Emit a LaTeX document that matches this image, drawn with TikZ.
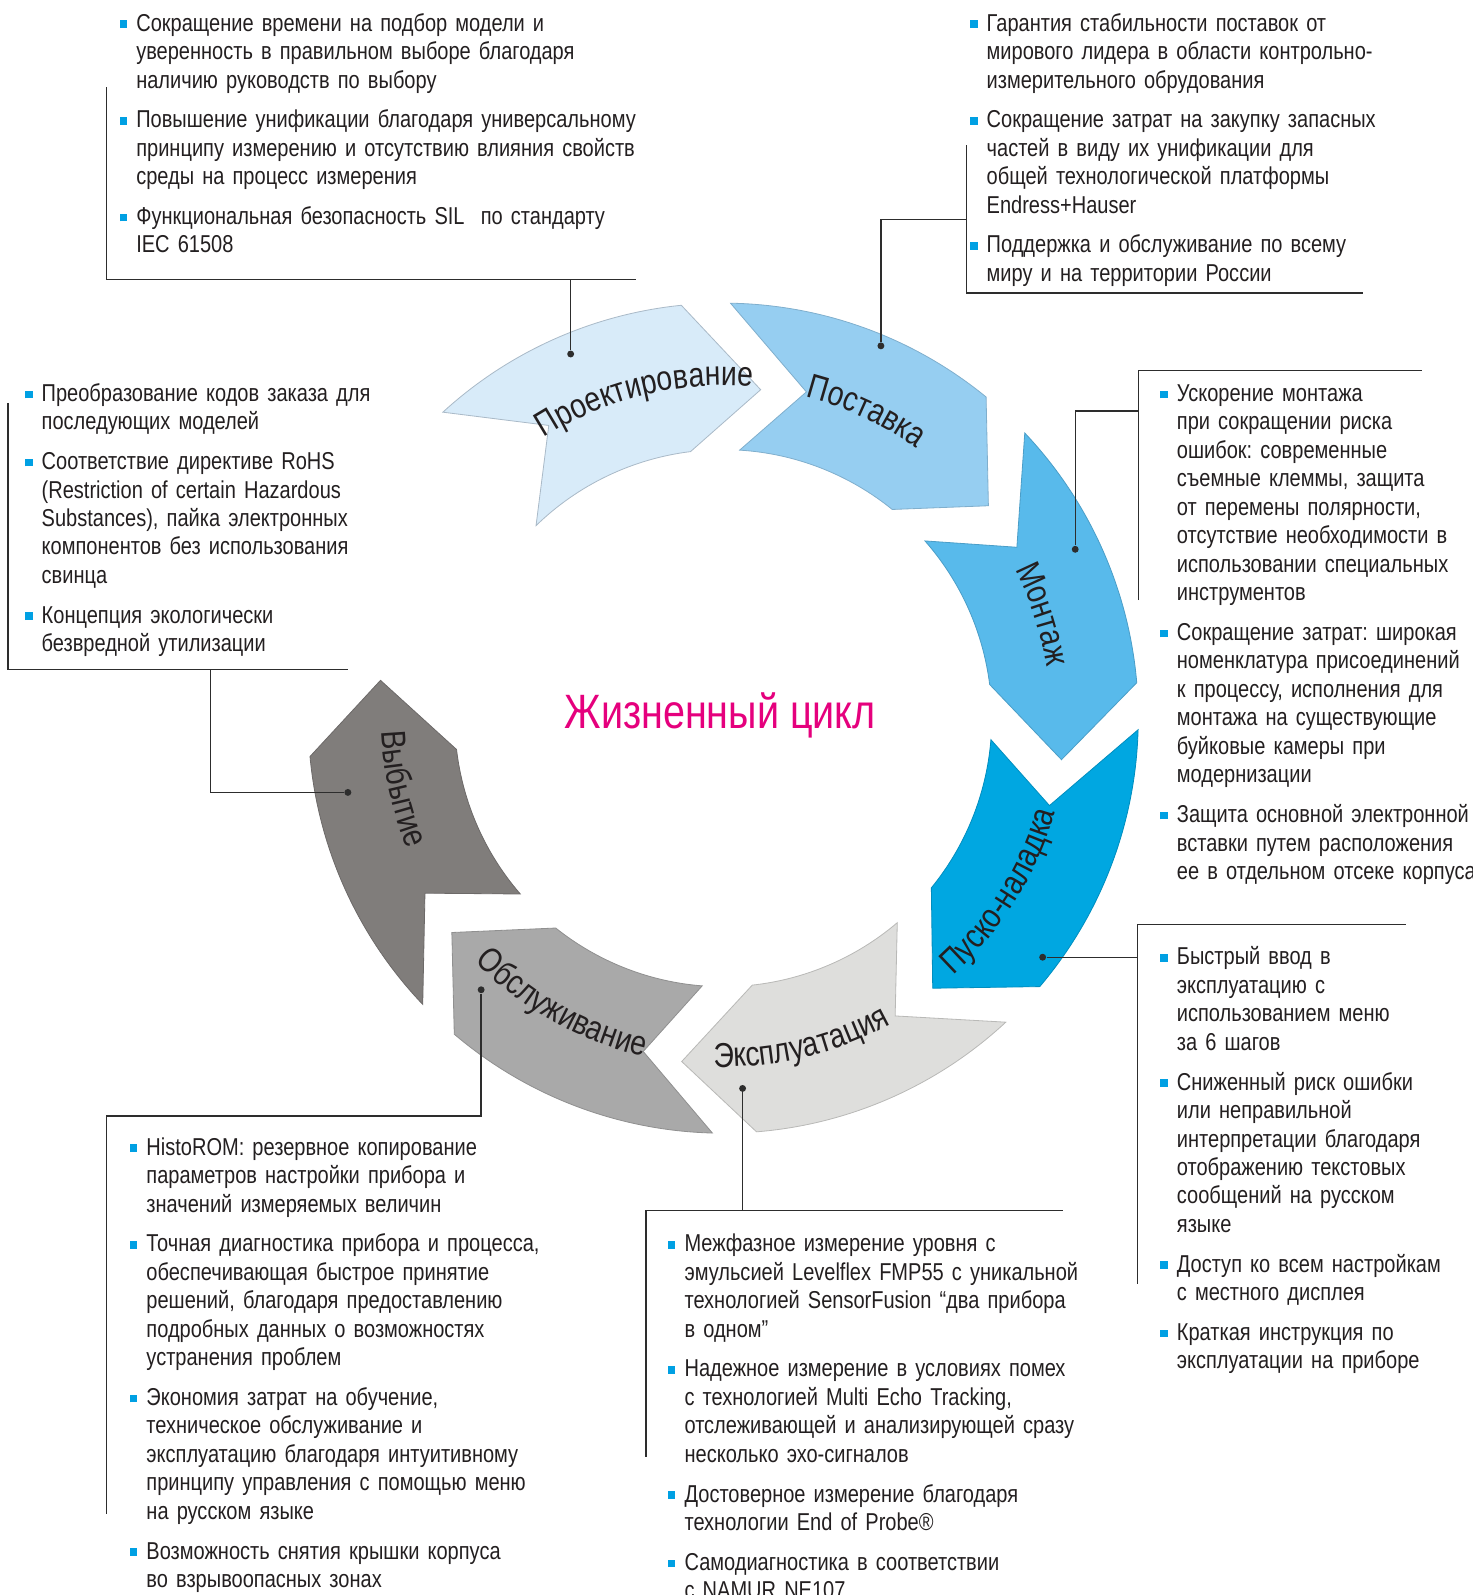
\documentclass[tikz,border=0pt]{standalone}
\usepackage{fontspec}
\setmainfont[FakeStretch=0.82]{Liberation Sans}
\usetikzlibrary{decorations.text}
\definecolor{cA}{RGB}{216,235,249}
\definecolor{cAd}{RGB}{170,186,200}
\definecolor{cB}{RGB}{150,206,241}
\definecolor{cC}{RGB}{88,186,235}
\definecolor{cD}{RGB}{0,167,225}
\definecolor{cE}{RGB}{222,222,220}
\definecolor{cEd}{RGB}{185,185,183}
\definecolor{cF}{RGB}{169,169,169}
\definecolor{cG}{RGB}{128,125,123}
\definecolor{titc}{RGB}{229,0,125}
\definecolor{bulc}{RGB}{0,160,227}
\definecolor{txt}{RGB}{35,31,32}
\definecolor{lnc}{RGB}{45,45,45}
\newcommand{\bodyf}{\fontsize{12}{14}\selectfont}
\newcommand{\lblf}{\fontsize{17}{20}\selectfont}
\newcommand{\titf}{\fontsize{23.7}{28}\selectfont}
\newcommand{\bul}{\leavevmode\strut\llap{\textcolor{bulc}{\rule[1.5pt]{3.75pt}{3.75pt}}\hspace{4.5pt}}}
\frenchspacing
\tikzset{
  blk/.style={anchor=north west, inner sep=0pt, outer sep=0pt, text width=300pt, align=left, font=\bodyf, text=txt},
  seg/.style={line width=0.4pt},
  conn/.style={draw=lnc, line width=0.65pt},
  dotn/.style={circle, fill=lnc, inner sep=0pt, minimum size=3.4pt},
}
\begin{document}
\begin{tikzpicture}[x=0.5pt,y=0.5pt]
\path[use as bounding box] (0,0) rectangle (1448,-1568);
\clip (0,0) rectangle (1448,-1568);

% ring
\begin{scope}[shift={(711,-706)}]
\filldraw[fill=cA, draw=cAd, seg] (132.5:408) arc[start angle=132.5, end angle=95.8, radius=408] -- (83.5:325) -- (97:264) arc[start angle=97, end angle=134.2, radius=264] -- (120.8:335) -- cycle;
\filldraw[fill=cB, draw=cB!85!black, seg] (89:408) arc[start angle=89, end angle=50.7, radius=408] -- (38.7:334) -- (51:264) arc[start angle=51, end angle=86.5, radius=264] -- (75.7:331) -- cycle;
\filldraw[fill=cC, draw=cC!85!black, seg] (43.4:408) arc[start angle=43.4, end angle=4.9, radius=408] -- (-7:335) -- (7.2:264) arc[start angle=7.2, end angle=41.3, radius=264] -- (30.2:334) -- cycle;
\filldraw[fill=cD, draw=cD!85!black, seg] (-1.6:408) arc[start angle=-1.6, end angle=-40.3, radius=408] -- (-52.2:336) -- (-39.2:264) arc[start angle=-39.2, end angle=-4.6, radius=264] -- (-15:332) -- cycle;
\filldraw[fill=cE, draw=cEd, seg] (-47.1:408) arc[start angle=-47.1, end angle=-85.4, radius=408] -- (-96.9:340) -- (-83.8:264) arc[start angle=-83.8, end angle=-49.6, radius=264] -- (-60:338) -- cycle;
\filldraw[fill=cF, draw=cF!85!black, seg] (-91.5:408) arc[start angle=-91.5, end angle=-130.4, radius=408] -- (-141.7:340) -- (-128.6:264) arc[start angle=-128.6, end angle=-94.5, radius=264] -- (-103.5:337) -- cycle;
\filldraw[fill=cG, draw=cG!85!black, seg] (-136.4:408) arc[start angle=-136.4, end angle=-174.7, radius=408] -- (-186.3:339) -- (-173.3:264) arc[start angle=-173.3, end angle=-139.1, radius=264] -- (-149.6:340) -- cycle;

\path[decorate, decoration={text along path, text align=center, text={|\lblf\color{txt}|Проектирование}}] (133.8:327) arc[start angle=133.8, end angle=73.8, radius=327];
\path[decorate, decoration={text along path, text align=center, text={|\lblf\color{txt}|Поставка}}] (95:326) arc[start angle=95, end angle=35, radius=326];
\path[decorate, decoration={text along path, text align=center, text={|\lblf\color{txt}|Монтаж}}] (48:322) arc[start angle=48, end angle=-12, radius=322];
\path[decorate, decoration={text along path, text align=center, text={|\lblf\color{txt}|Пуско-наладка}}] (-62:339) arc[start angle=-62, end angle=-2, radius=339];
\path[decorate, decoration={text along path, text align=center, text={|\lblf\color{txt}|Эксплуатация}}] (-106.4:343) arc[start angle=-106.4, end angle=-46.4, radius=343];
\path[decorate, decoration={text along path, text align=center, text={|\lblf\color{txt}|Обслуживание}}] (-149.4:342) arc[start angle=-149.4, end angle=-89.4, radius=342];
\path[decorate, decoration={text along path, text align=center, text={|\lblf\color{txt}|Выбытие}}] (-197.6:336) arc[start angle=-197.6, end angle=-137.6, radius=336];
\end{scope}

\node[anchor=base, inner sep=0pt, text=titc, font=\titf] (title) at (708,-716) {Жизненный цикл};

% text blocks
\node[blk] (b1) at (134,-11) {\setlength{\parskip}{5.5pt}%
\bul Сокращение времени на подбор модели и\\ уверенность в правильном выборе благодаря\\ наличию руководств по выбору\par
\bul Повышение унификации благодаря универсальному\\ принципу измерению и отсутствию влияния свойств\\ среды на процесс измерения\par
\bul Функциональная безопасность SIL~ по стандарту\\ IEC 61508};

\node[blk] (b2) at (970,-11) {\setlength{\parskip}{5.5pt}%
\bul Гарантия стабильности поставок от\\ мирового лидера в области контрольно-\\ измерительного обрудования\par
\bul Сокращение затрат на закупку запасных\\ частей в виду их унификации для\\ общей технологической платформы\\ Endress+Hauser\par
\bul Поддержка и обслуживание по всему\\ миру и на территории России};

\node[blk] (b3) at (41,-375) {\setlength{\parskip}{5.5pt}%
\bul Преобразование кодов заказа для\\ последующих моделей\par
\bul Соответствие директиве RoHS\\ (Restriction of certain Hazardous\\ Substances), пайка электронных\\ компонентов без использования\\ свинца\par
\bul Концепция экологически\\ безвредной утилизации};

\node[blk] (b4) at (1157,-375) {\setlength{\parskip}{5.5pt}%
\bul Ускорение монтажа\\ при сокращении риска\\ ошибок: современные\\ съемные клеммы, защита\\ от перемены полярности,\\ отсутствие необходимости в\\ использовании специальных\\ инструментов\par
\bul Сокращение затрат: широкая\\ номенклатура присоединений\\ к процессу, исполнения для\\ монтажа на существующие\\ буйковые камеры при\\ модернизации\par
\bul Защита основной электронной\\ вставки путем расположения\\ ее в отдельном отсеке корпуса};

\node[blk] (b5) at (1157,-929) {\setlength{\parskip}{5.5pt}%
\bul Быстрый ввод в\\ эксплуатацию с\\ использованием меню\\ за 6 шагов\par
\bul Сниженный риск ошибки\\ или неправильной\\ интерпретации благодаря\\ отображению текстовых\\ сообщений на русском\\ языке\par
\bul Доступ ко всем настройкам\\ с местного дисплея\par
\bul Краткая инструкция по\\ эксплуатации на приборе};

\node[blk] (b6) at (144,-1116) {\setlength{\parskip}{5.5pt}%
\bul HistoROM: резервное копирование\\ параметров настройки прибора и\\ значений измеряемых величин\par
\bul Точная диагностика прибора и процесса,\\ обеспечивающая быстрое принятие\\ решений, благодаря предоставлению\\ подробных данных о возможностях\\ устранения проблем\par
\bul Экономия затрат на обучение,\\ техническое обслуживание и\\ эксплуатацию благодаря интуитивному\\ принципу управления с помощью меню\\ на русском языке\par
\bul Возможность снятия крышки корпуса\\ во взрывоопасных зонах};

\node[blk] (b7) at (673,-1211) {\setlength{\parskip}{5.5pt}%
\bul Межфазное измерение уровня с\\ эмульсией Levelflex FMP55 с уникальной\\ технологией SensorFusion “два прибора\\ в одном”\par
\bul Надежное измерение в условиях помех\\ с технологией Multi Echo Tracking,\\ отслеживающей и анализирующей сразу\\ несколько эхо-сигналов\par
\bul Достоверное измерение благодаря\\ технологии End of Probe®\par
\bul Самодиагностика в соответствии\\ с NAMUR NE107};

% frames and connectors
\node[dotn] (d1) at (561,-348) {};
\node[dotn] (d2) at (866,-340) {};
\node[dotn] (d3) at (342,-779) {};
\node[dotn] (d4) at (1057,-540) {};
\node[dotn] (d5) at (1025,-941) {};
\node[dotn] (d6) at (473,-973) {};
\node[dotn] (d7) at (730,-1070) {};

\coordinate (b1t) at (105,-86); \coordinate (b1c) at (105,-275); \coordinate (b1r) at (625,-275); \coordinate (b1j) at (561,-275);
\draw[conn] (b1t) -- (b1c) -- (b1r); \draw[conn] (b1j) -- (d1);

\coordinate (b2t) at (950,-143); \coordinate (b2c) at (950,-288); \coordinate (b2r) at (1340,-288); \coordinate (b2j) at (950,-216); \coordinate (b2k) at (866,-216);
\draw[conn] (b2t) -- (b2c) -- (b2r); \draw[conn] (b2j) -- (b2k) -- (d2);

\coordinate (b3t) at (8,-396); \coordinate (b3c) at (8,-658); \coordinate (b3r) at (342,-658); \coordinate (b3j) at (207,-658); \coordinate (b3k) at (207,-779);
\draw[conn] (b3t) -- (b3c) -- (b3r); \draw[conn] (b3j) -- (b3k) -- (d3);

\coordinate (b4l) at (1119,-590); \coordinate (b4c) at (1119,-364); \coordinate (b4r) at (1398,-364); \coordinate (b4j) at (1119,-404); \coordinate (b4k) at (1057,-404);
\draw[conn] (b4l) -- (b4c) -- (b4r); \draw[conn] (b4j) -- (b4k) -- (d4);

\coordinate (b5b) at (1118,-1262); \coordinate (b5c) at (1118,-909); \coordinate (b5r) at (1382,-909); \coordinate (b5j) at (1118,-941);
\draw[conn] (b5b) -- (b5c) -- (b5r); \draw[conn] (b5j) -- (d5);

\coordinate (b6b) at (105,-1488); \coordinate (b6c) at (105,-1097); \coordinate (b6r) at (473,-1097);
\draw[conn] (b6b) -- (b6c) -- (b6r) -- (d6);

\coordinate (b7b) at (635,-1432); \coordinate (b7c) at (635,-1190); \coordinate (b7r) at (1045,-1190); \coordinate (b7j) at (730,-1190);
\draw[conn] (b7b) -- (b7c) -- (b7r); \draw[conn] (b7j) -- (d7);
\end{tikzpicture}
\end{document}
